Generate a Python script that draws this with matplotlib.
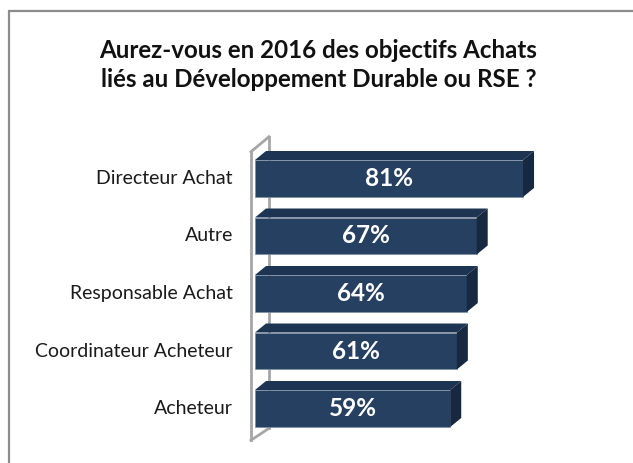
import matplotlib.pyplot as plt
from matplotlib.patches import Polygon, Rectangle
from matplotlib.transforms import ScaledTranslation
from matplotlib.lines import Line2D

# data
categories = ['Acheteur', 'Coordinateur Acheteur', 'Responsable Achat', 'Autre', 'Directeur Achat']
values = [59, 61, 64, 67, 81]
title = 'Aurez-vous en 2016 des objectifs Achats\nliés au Développement Durable ou RSE ?'

front = '#254061'
top_c = '#1d3452'
side_c = '#162941'

plt.rcParams['font.family'] = ['Lato', 'DejaVu Sans']

W, H = 633, 463
fig = plt.figure(figsize=(W / 100, H / 100), dpi=100)

# outer border of the chart area (runs off the image to the right/bottom)
fig.patches.append(Rectangle((9 / W, -0.1), 1.2, (H - 11) / H + 0.1, transform=fig.transFigure,
                             fill=False, ec='#8c8c8c', lw=1.6))

ax = fig.add_axes([255 / W, 0.0556, 330.9 / W, 0.621])
ax.set_xlim(0, 100)
ax.set_ylim(-0.5, len(categories) - 0.5)
ax.axis('off')

def px(dx, dy):
    return ScaledTranslation(dx / 100, -dy / 100, fig.dpi_scale_trans)

def to_fig(x, y, a, b):
    p = (ax.transData + px(a, b)).transform((x, y))
    return (p[0] / W, p[1] / H)

# wall (thin 3D panel at x=0), drawn behind the bars
ytop, ybot = len(categories) - 0.5, -0.5
wall_pts = [(0, ybot, -4, 3), (0, ytop, -4, 2), (0, ytop, 14, -13), (0, ybot, 14, -9), (0, ybot, -4, 3)]
for s0, s1 in zip(wall_pts[:-1], wall_pts[1:]):
    p0, p1 = to_fig(*s0), to_fig(*s1)
    fig.lines.append(Line2D([p0[0], p1[0]], [p0[1], p1[1]], transform=fig.transFigure,
                            color='#a6a6a6', lw=2, zorder=-1, solid_capstyle='projecting'))

bh = 0.643
dx, dy = 11, 9
ax.barh(range(len(categories)), values, height=bh, color=front, zorder=3,
        edgecolor='#7f8fa6', linewidth=0.5)
for i, v in enumerate(values):
    yb, yt = i - bh / 2, i + bh / 2
    pts_top = [to_fig(0, yt, 0, 0), to_fig(v, yt, 0, 0), to_fig(v, yt, dx, -dy), to_fig(0, yt, dx, -dy)]
    pts_side = [to_fig(v, yt, 0, 0), to_fig(v, yt, dx, -dy), to_fig(v, yb, dx, -dy), to_fig(v, yb, 0, 0)]
    fig.patches.append(Polygon(pts_top, closed=True, transform=fig.transFigure,
                               fc=top_c, ec='none', zorder=2))
    fig.patches.append(Polygon(pts_side, closed=True, transform=fig.transFigure,
                               fc=side_c, ec='none', zorder=2))
    ax.text(v / 2, i, f'{v}%', ha='center', va='center', color='white',
            fontsize=17.5, fontweight='bold', zorder=5)
    ax.text(-22 / 3.309, i, categories[i], ha='right', va='center', color='#1a1a1a',
            fontsize=14, clip_on=False)

fig.text(318.5 / W, 1 - 65 / H, title, ha='center', va='center', fontsize=17.4,
         fontweight='bold', color='#111111', linespacing=1.3)

fig.savefig('out.png', dpi=100)
